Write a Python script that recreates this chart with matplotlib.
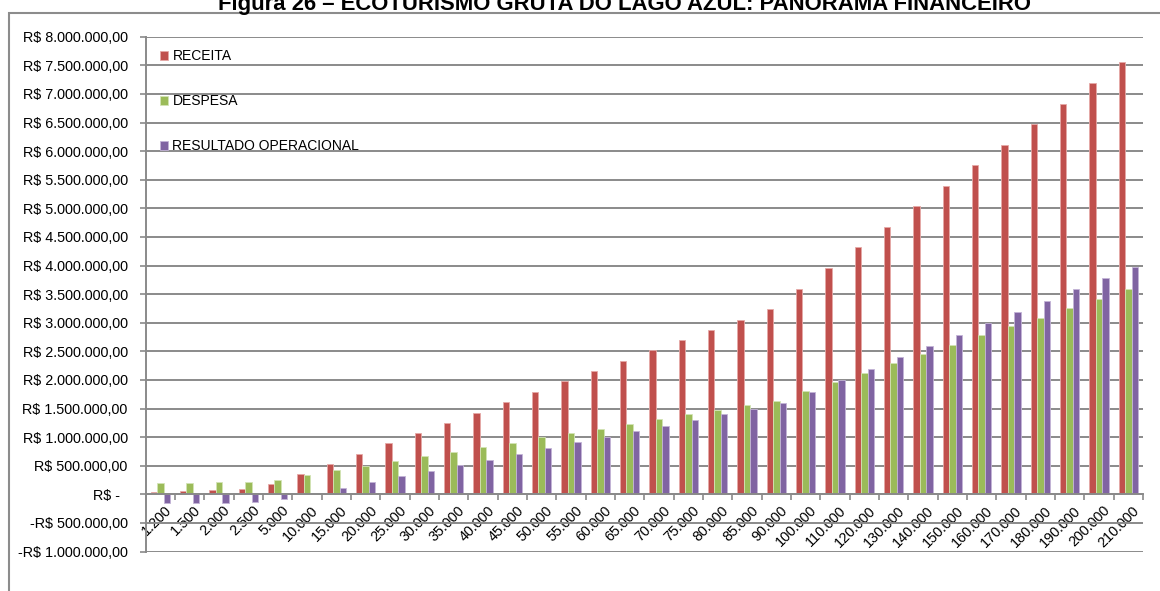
import numpy as np
import matplotlib
matplotlib.use("Agg")
import matplotlib.pyplot as plt
import matplotlib.transforms as mtransforms
from matplotlib.patches import Rectangle
from matplotlib.ticker import FixedLocator, FuncFormatter

plt.rcParams['font.family'] = ['Liberation Sans', 'DejaVu Sans']

categories = ["1.200", "1.500", "2.000", "2.500", "5.000", "10.000", "15.000", "20.000",
              "25.000", "30.000", "35.000", "40.000", "45.000", "50.000", "55.000", "60.000",
              "65.000", "70.000", "75.000", "80.000", "85.000", "90.000", "100.000", "110.000",
              "120.000", "130.000", "140.000", "150.000", "160.000", "170.000", "180.000",
              "190.000", "200.000", "210.000"]

receita = [43000, 53000, 71000, 89000, 178000, 356000, 534000, 712000,
           890000, 1068000, 1246000, 1430000, 1615000, 1797000, 1975000, 2154000,
           2334000, 2515000, 2695000, 2872000, 3048000, 3231000, 3590000, 3950000,
           4323000, 4679000, 5041000, 5397000, 5758000, 6114000, 6470000,
           6832000, 7199000, 7561000]

despesa = [198000, 198000, 210000, 221000, 250000, 344000, 425000, 501000,
           577000, 670000, 746000, 827000, 902000, 995000, 1071000, 1147000,
           1228000, 1310000, 1397000, 1479000, 1554000, 1630000, 1800000, 1960000,
           2124000, 2287000, 2450000, 2614000, 2777000, 2935000, 3086000,
           3261000, 3413000, 3582000]

resultado = [-157000, -157000, -146000, -134000, -76000, 11000, 111000, 210000,
             315000, 408000, 513000, 603000, 704000, 803000, 908000, 1001000,
             1106000, 1193000, 1292000, 1397000, 1496000, 1595000, 1791000, 1995000,
             2194000, 2398000, 2590000, 2789000, 2993000, 3180000, 3378000,
             3588000, 3775000, 3973000]

series_names = ["RECEITA", "DESPESA", "RESULTADO OPERACIONAL"]
colors = ["#C0504D", "#9BBB59", "#8064A2"]
edges = ["#E6A9A7", "#D3E4B5", "#C3B4D6"]

title = "Figura 26 \u2013 ECOTURISMO GRUTA DO LAGO AZUL: PANORAMA FINANCEIRO"

W, H = 1160, 591
fig = plt.figure(figsize=(W / 100, H / 100), dpi=100)
ax = fig.add_axes([145.7 / W, 1 - 551.5 / H, (1143 - 145.7) / W, (551.5 - 36.7) / H])

grid_c = "#8A8A8A"
x = np.arange(len(categories))
w = 0.222
for k, (vals, name) in enumerate(zip([receita, despesa, resultado], series_names)):
    ax.bar(x + (k - 1) * w, vals, width=w, color=colors[k], edgecolor=edges[k],
           linewidth=0.6, label=name, zorder=3)

ax.set_xlim(-0.5, len(categories) - 0.5)
ax.set_ylim(-1000000, 8000000)

yt = np.arange(-1000000, 8000001, 500000)
ax.yaxis.set_major_locator(FixedLocator(yt))

def fmt(v, pos):
    if abs(v) < 1:
        return "R$ -  "
    s = f"{abs(v):,.2f}".replace(",", "X").replace(".", ",").replace("X", ".")
    return ("-R$ " if v < 0 else "R$ ") + s

ax.yaxis.set_major_formatter(FuncFormatter(fmt))
ax.grid(axis='y', color=grid_c, linewidth=1.4, zorder=0)
ax.set_axisbelow(True)
ax.tick_params(axis='y', length=4, width=1.2, color=grid_c, pad=9, labelsize=10.4,
               labelcolor="#000000")

for s in ["top", "right"]:
    ax.spines[s].set_visible(False)
ax.spines["left"].set_color(grid_c)
ax.spines["left"].set_linewidth(1.4)
ax.spines["bottom"].set_position(("data", 0))
ax.spines["bottom"].set_color(grid_c)
ax.spines["bottom"].set_linewidth(1.4)
ax.spines["bottom"].set_zorder(4)

ax.set_xticks(x)
ax.set_xticklabels(categories, rotation=45, ha='right', va='top', rotation_mode='anchor',
                   fontsize=10.4)
ax.tick_params(axis='x', which='major', length=0, pad=6.5)
ax.set_xticks(np.arange(len(categories) + 1) - 0.5, minor=True)
ax.tick_params(axis='x', which='minor', length=4, width=1.2, color=grid_c, direction='out')
offset = mtransforms.ScaledTranslation(4 / 100, 0, fig.dpi_scale_trans)
for lab in ax.get_xticklabels():
    lab.set_transform(lab.get_transform() + offset)

leg = ax.legend(loc='upper left', bbox_to_anchor=(160 / W, 1 - 49 / H),
                bbox_transform=fig.transFigure, frameon=False, fontsize=10,
                handlelength=0.6, handleheight=0.6, handletextpad=0.3,
                labelspacing=2.25, borderpad=0, borderaxespad=0)

fig.text(624 / W, 1 - 10 / H, title, ha='center', va='baseline', fontsize=15.9,
         fontweight='bold')

border = Rectangle((9 / W, -0.1), 1.2, 1 - 13 / H + 0.1, transform=fig.transFigure,
                   fill=False, edgecolor="#8C8C8C", linewidth=1.5, clip_on=False)
fig.add_artist(border)

fig.savefig("out.png", dpi=100)
